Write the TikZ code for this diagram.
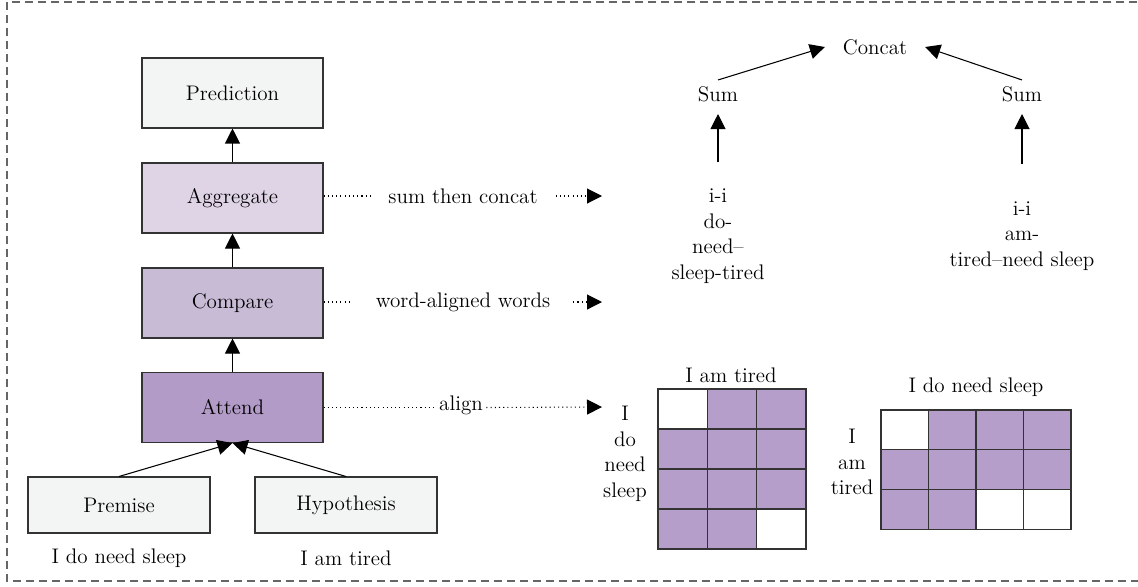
\documentclass[tikz,border=0pt]{standalone}
\usetikzlibrary{arrows.meta}
\definecolor{boxgray}{HTML}{F3F5F4}
\definecolor{aggpurple}{HTML}{DFD3E6}
\definecolor{cmppurple}{HTML}{C8BBD6}
\definecolor{attpurple}{HTML}{B39BC8}
\definecolor{cellpurple}{HTML}{B59FCA}
\definecolor{linegray}{HTML}{333333}
\begin{document}
\begin{tikzpicture}[x=0.02cm, y=-0.02cm, >={Triangle[length=0.3cm,width=0.3cm]}, line width=0.6pt,
  main node/.style={rectangle,draw=linegray,minimum width=3.62cm,minimum height=1.4cm,inner sep=0pt,font=\fontsize{12}{14.5}\selectfont},
  input node/.style={main node,fill=boxgray,minimum width=3.64cm,minimum height=1.12cm},
  word node/.style={align=center,font=\fontsize{12}{14.5}\selectfont},
  dots/.style={dash pattern=on 0.6pt off 1.8pt}]
\useasboundingbox (0,0) rectangle (1138,586);
\draw[dashed, dash pattern=on 0.16cm off 0.1cm, draw=black!60] (7,2) rectangle (1150,581);
% model stack
\node [main node,fill=boxgray](pred) at (232.5,93) {Prediction};
\node [main node,fill=aggpurple](agg) at (232.5,198) {Aggregate};
\node [main node,fill=cmppurple](cmp) at (232.5,303) {Compare};
\node [main node,fill=attpurple](att) at (232.5,407.5) {Attend};
\node [input node](prem) at (119,505) {Premise};
\node [input node](hyp) at (346,505) {Hypothesis};
\node [word node](premtxt) at (119,558) {I do need sleep};
\node [word node](hyptxt) at (346,558) {I am tired};
\path[->]
	(agg) edge (pred)
	(cmp) edge (agg)
	(att) edge (cmp)
	(prem.north) edge (att.south)
	(hyp.north) edge (att.south)
	;
% dotted links
\node [word node,inner xsep=0.35cm](aggtxt) at (463,196) {sum then concat};
\node [word node,inner xsep=0.45cm](cmptxt) at (463,302) {word-aligned words};
\node [word node,inner xsep=0.06cm](atttxt) at (461,405) {align};
\coordinate (aggend) at (602,196);
\coordinate (cmpend) at (602,302);
\coordinate (attend) at (602,407);
\draw[dots] (agg.east |- aggtxt) -- (aggtxt.west);
\draw[dots,->] (aggtxt.east) -- (aggend);
\draw[dots] (cmp.east |- cmptxt) -- (cmptxt.west);
\draw[dots,->] (cmptxt.east) -- (cmpend);
\draw[dots] (att.east) -- (atttxt.west |- att.east);
\draw[dots,->] (atttxt.east |- att.east) -- (attend);
% aggregation
\node [word node,inner xsep=0.35cm](concat) at (875,47) {Concat};
\node [word node](suml) at (718,94) {Sum};
\node [word node](sumr) at (1022,94) {Sum};
\node [word node](seql) at (718,236) {i-i\\do-\\need--\\sleep-tired};
\node [word node](seqr) at (1022,236) {i-i\\am-\\tired--need sleep};
\path[->]
	(suml.north) edge (concat.west)
	(sumr.north) edge (concat.east)
	(seql.north) edge[shorten <=0.4cm, shorten >=0.12cm] (suml.south)
	(seqr.north) edge[shorten <=0.62cm, shorten >=0.12cm] (sumr.south)
	;
% attention grids
\foreach \c/\r/\f in {0/0/white,1/0/cellpurple,2/0/cellpurple,
                      0/1/cellpurple,1/1/cellpurple,2/1/cellpurple,
                      0/2/cellpurple,1/2/cellpurple,2/2/cellpurple,
                      0/3/cellpurple,1/3/cellpurple,2/3/white}
	\draw[draw=linegray,fill=\f] ({658+\c*49.33},{389+\r*40}) rectangle ++(49.33,40);
\foreach \c/\r/\f in {0/0/white,1/0/cellpurple,2/0/cellpurple,3/0/cellpurple,
                      0/1/cellpurple,1/1/cellpurple,2/1/cellpurple,3/1/cellpurple,
                      0/2/cellpurple,1/2/cellpurple,2/2/white,3/2/white}
	\draw[draw=linegray,fill=\f] ({881+\c*47.5},{410+\r*39.7}) rectangle ++(47.5,39.7);
\node [word node](gridatop) at (731,375) {I am tired};
\node [word node](gridaside) at (625,454) {I\\do\\need\\sleep};
\node [word node](gridbtop) at (976,387) {I do need sleep};
\node [word node](gridbside) at (852,462) {I\\am\\tired};
\end{tikzpicture}
\end{document}
